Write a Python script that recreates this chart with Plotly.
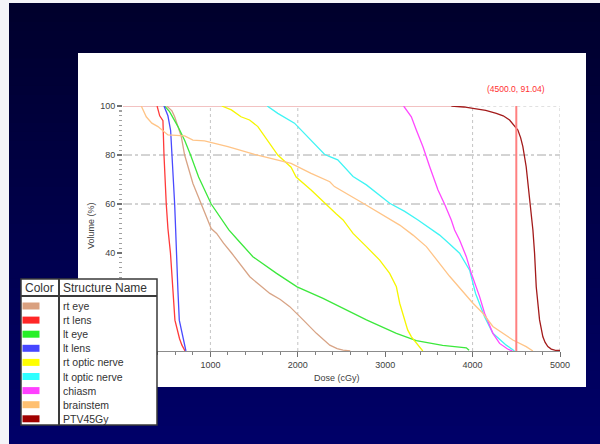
import plotly.graph_objects as go

# ---------------- data ----------------
rt_eye_dose = [500, 560, 591, 640, 667, 705, 750, 800, 850, 895, 950, 1009, 1071, 1150, 1242, 1350, 1451, 1560, 1680, 1800, 1908, 2061, 2213, 2366, 2450, 2518, 2600]
rt_eye_vol = [100, 98, 95.6, 90, 87.5, 80, 74, 68.4, 64, 60, 55, 50, 48, 44, 40, 35, 30.3, 27, 23.5, 21, 18.1, 12.7, 7.2, 2.4, 1.0, 0.4, 0]

rt_lens_dose = [390, 420, 457, 469, 495, 514, 543, 562, 581, 594, 647, 674, 710]
rt_lens_vol = [100, 96, 94, 80, 60, 50, 40, 30, 20, 12.6, 5, 2.4, 0]

lt_eye_dose = [476, 533, 629, 705, 773, 865, 1009, 1128, 1211, 1314, 1486, 1757, 1992, 2289, 2554, 2785, 3128, 3280, 3356, 3657, 3928, 3960]
lt_eye_vol = [100, 97.7, 91.6, 86, 80, 71, 60, 53.5, 49.4, 45.3, 38.5, 31.7, 26.2, 21.5, 16.7, 12.7, 7.2, 5.2, 4.2, 2.3, 1.3, 0.3]

lt_lens_dose = [469, 514, 545, 563, 591, 602, 610, 628, 644, 691, 720]
lt_lens_vol = [100, 96, 90, 80, 60, 50, 40, 25, 12.6, 5, 0]

rt_optic_dose = [1130, 1240, 1350, 1448, 1543, 1657, 1771, 1923, 1981, 2152, 2305, 2438, 2518, 2632, 2785, 2937, 3051, 3128, 3166, 3211, 3257, 3300, 3394, 3430]
rt_optic_vol = [100, 98.4, 95.6, 94.3, 91.6, 86, 80, 75, 71, 65.7, 60.3, 56, 53.5, 48, 42.6, 37.1, 31.7, 26.2, 19.5, 14, 8.6, 5.8, 1.3, 0]

lt_optic_dose = [1650, 1771, 1962, 2076, 2191, 2305, 2366, 2457, 2632, 2785, 3051, 3223, 3375, 3547, 3623, 3737, 3851, 3966, 4034, 4137, 4232, 4385, 4480]
lt_optic_vol = [100, 97, 93, 88.8, 84.8, 80.3, 79.3, 78, 71.2, 67.8, 60.3, 57, 53.5, 49.4, 47.3, 43.7, 39.9, 33, 23.5, 14, 7.2, 2.4, 0]

chiasm_dose = [3211, 3299, 3356, 3432, 3509, 3604, 3680, 3756, 3794, 3851, 3928, 3985, 4080, 4137, 4232, 4309, 4400, 4457]
chiasm_vol = [100, 95.6, 90.2, 83.4, 75.2, 65.7, 59.9, 53.5, 49.4, 45.3, 38.5, 31.7, 22.2, 15.4, 7.2, 3.1, 0.8, 0]

brainstem_dose = [209, 266, 330, 400, 514, 600, 705, 800, 933, 1200, 1505, 1923, 2152, 2366, 2419, 2747, 3166, 3318, 3471, 3737, 4004, 4118, 4232, 4461, 4613, 4690]
brainstem_vol = [100, 95.6, 93, 91.6, 88.2, 87.9, 87.8, 86.1, 85.8, 83.4, 80.3, 76.6, 72.5, 69.1, 67.1, 60.3, 51.4, 47.3, 42.6, 30.5, 19.5, 15.4, 10, 4.5, 1.8, 0]

ptv_dose = [3756, 3900, 4004, 4150, 4271, 4350, 4423, 4480, 4518, 4550, 4575, 4613, 4643, 4663, 4682, 4690, 4709, 4728, 4766, 4804, 4830, 4861, 4900, 4956, 5000]
ptv_vol = [100, 99.6, 99, 98.2, 97, 96, 94.3, 92, 90.2, 87, 83.4, 75.2, 65.7, 59.9, 53.5, 49.4, 39.9, 26.2, 12.7, 5.8, 3.5, 1.8, 0.8, 0.2, 0.2]

structure_names = ["rt eye", "rt lens", "lt eye", "lt lens", "rt optic nerve",
                   "lt optic nerve", "chiasm", "brainstem", "PTV45Gy"]
structure_colors = ["#d9a07f", "#ff2626", "#26f026", "#4646ff", "#ffff00",
                    "#30ffff", "#ff40ff", "#ffc070", "#a00000"]
line_colors = ["#d8a486", "#ff3a3a", "#3ce83c", "#4a4aff", "#f6f600",
               "#40f4f4", "#ff48ff", "#ffc487", "#a31a1a"]
curves = [(rt_eye_dose, rt_eye_vol), (rt_lens_dose, rt_lens_vol), (lt_eye_dose, lt_eye_vol),
          (lt_lens_dose, lt_lens_vol), (rt_optic_dose, rt_optic_vol), (lt_optic_dose, lt_optic_vol),
          (chiasm_dose, chiasm_vol), (brainstem_dose, brainstem_vol), (ptv_dose, ptv_vol)]

x_ticks = [1000, 2000, 3000, 4000, 5000]
y_ticks = [20, 40, 60, 80, 100]
grid_x = [1000, 2000, 4000, 5000]
grid_y = [60, 80]
marker_dose = 4500
marker_vol = 91.04

# ---------------- geometry helpers ----------------
W, H = 600, 444
L, R, T, B = 123, 40, 106, 93
PW = W - L - R
PH = H - T - B


def pxx(x):
    return (x - L) / PW


def pxy(y):
    return (H - B - y) / PH


FONT = "Liberation Sans, Arial, sans-serif"

fig = go.Figure()
for (dx, dy), name, col in zip(curves, structure_names, line_colors):
    fig.add_trace(go.Scatter(x=dx, y=dy, mode="lines", name=name,
                             line=dict(color=col, width=1.3),
                             showlegend=False, hoverinfo="skip"))

shapes = []
# navy gradient background (each band reaches the bottom, later bands cover earlier ones)
n = 48
y0p = 3
for i in range(n):
    t = i / (n - 1)
    b = int(round(44 + (104 - 44) * t))
    ya = y0p + (H - y0p) * i / n
    shapes.append(dict(type="rect", xref="paper", yref="paper", layer="below",
                       x0=pxx(9), x1=pxx(W + 2), y0=pxy(ya), y1=pxy(H + 2),
                       fillcolor=f"rgb(0,0,{b})", line=dict(width=0)))
# white panel
shapes.append(dict(type="rect", xref="paper", yref="paper", layer="below",
                   x0=pxx(78), x1=pxx(586), y0=pxy(53), y1=pxy(387),
                   fillcolor="white", line=dict(width=0)))
# grid lines
for gx in grid_x:
    shapes.append(dict(type="line", xref="x", yref="y", layer="below",
                       x0=gx, x1=gx, y0=0, y1=100,
                       line=dict(color="#c4c4c4", width=1, dash="dot")))
for gy in grid_y:
    shapes.append(dict(type="line", xref="x", yref="y", layer="below",
                       x0=0, x1=5000, y0=gy, y1=gy,
                       line=dict(color="#a8a8a8", width=1, dash="dashdot")))
shapes.append(dict(type="line", xref="x", yref="y", layer="below",
                   x0=ptv_dose[0], x1=5000, y0=100, y1=100,
                   line=dict(color="#c4c4c4", width=1, dash="dot")))
shapes.append(dict(type="line", xref="x", yref="y", layer="below",
                   x0=0, x1=ptv_dose[0], y0=100, y1=100,
                   line=dict(color="#f2c2c2", width=2)))
# cursor line
shapes.append(dict(type="line", xref="x", yref="y", layer="above",
                   x0=marker_dose, x1=marker_dose, y0=0, y1=100,
                   line=dict(color="#ff8080", width=2)))

# legend table
tx0, tx1, ty0, ty1 = 21, 157, 279, 425
col_x = 59
head_y = 296
shapes.append(dict(type="rect", xref="paper", yref="paper", layer="above",
                   x0=pxx(tx0), x1=pxx(tx1), y0=pxy(ty0), y1=pxy(ty1),
                   fillcolor="white", line=dict(color="#3a3a3a", width=1.5)))
shapes.append(dict(type="line", xref="paper", yref="paper", layer="above",
                   x0=pxx(tx0), x1=pxx(tx1), y0=pxy(head_y), y1=pxy(head_y),
                   line=dict(color="#3a3a3a", width=2)))
shapes.append(dict(type="line", xref="paper", yref="paper", layer="above",
                   x0=pxx(col_x), x1=pxx(col_x), y0=pxy(ty0), y1=pxy(ty1),
                   line=dict(color="#3a3a3a", width=2)))

annotations = []
annotations.append(dict(text="Color", xref="paper", yref="paper",
                        x=pxx(39.5), y=pxy(288), xanchor="center", yanchor="middle",
                        showarrow=False, font=dict(family=FONT, size=12, color="#333")))
annotations.append(dict(text="Structure Name", xref="paper", yref="paper",
                        x=pxx(61), y=pxy(288), xanchor="left", yanchor="middle",
                        showarrow=False, font=dict(family=FONT, size=12, color="#333")))
row0, row_step = 306, 14.1
for i, (name, col) in enumerate(zip(structure_names, structure_colors)):
    yc = row0 + i * row_step
    shapes.append(dict(type="rect", xref="paper", yref="paper", layer="above",
                       x0=pxx(22.5), x1=pxx(39.5), y0=pxy(yc - 3.5), y1=pxy(yc + 3.5),
                       fillcolor=col, line=dict(width=0)))
    annotations.append(dict(text=name, xref="paper", yref="paper",
                            x=pxx(61), y=pxy(yc), xanchor="left", yanchor="middle",
                            showarrow=False,
                            font=dict(family=FONT, size=10.5, color="#333")))

# axis titles and cursor label
annotations.append(dict(text="Dose (cGy)", xref="paper", yref="paper",
                        x=pxx(337), y=pxy(378), xanchor="center", yanchor="middle",
                        showarrow=False, font=dict(family=FONT, size=9, color="#404040")))
annotations.append(dict(text="Volume (%)", xref="paper", yref="paper",
                        x=pxx(91), y=pxy(226), xanchor="center", yanchor="middle",
                        textangle=-90, showarrow=False,
                        font=dict(family=FONT, size=9, color="#404040")))
annotations.append(dict(text=f"({marker_dose:.1f}, {marker_vol:.2f})", xref="x", yref="paper",
                        x=marker_dose, y=pxy(89), xanchor="center", yanchor="middle",
                        showarrow=False, font=dict(family=FONT, size=8.5, color="#ff3030")))

fig.update_layout(
    width=W, height=H, autosize=False,
    margin=dict(l=L, r=R, t=T, b=B, pad=0),
    paper_bgcolor="#f4f4f8", plot_bgcolor="rgba(0,0,0,0)",
    shapes=shapes, annotations=annotations, showlegend=False,
    font=dict(family=FONT),
    xaxis=dict(range=[0, 5000], tickvals=x_ticks, showgrid=False, zeroline=False,
               showline=True, linecolor="#8c8c8c", linewidth=1,
               ticks="outside", ticklen=5, tickcolor="#707070", tickwidth=1,
               tickfont=dict(family=FONT, size=9, color="#404040"),
               minor=dict(dtick=200, ticks="outside", ticklen=3, tickcolor="#808080",
                          showgrid=False)),
    yaxis=dict(range=[0, 100], tickvals=y_ticks, showgrid=False, zeroline=False,
               showline=False, ticks="outside", ticklen=5, tickcolor="#707070",
               tickwidth=1.2,
               tickfont=dict(family=FONT, size=9, color="#404040"),
               minor=dict(dtick=2, ticks="outside", ticklen=3, tickcolor="#a0a0a0",
                          showgrid=False)),
)

fig.write_html("out.html", config={"displayModeBar": False, "staticPlot": True},
               post_script="document.body.style.margin='0px';")
